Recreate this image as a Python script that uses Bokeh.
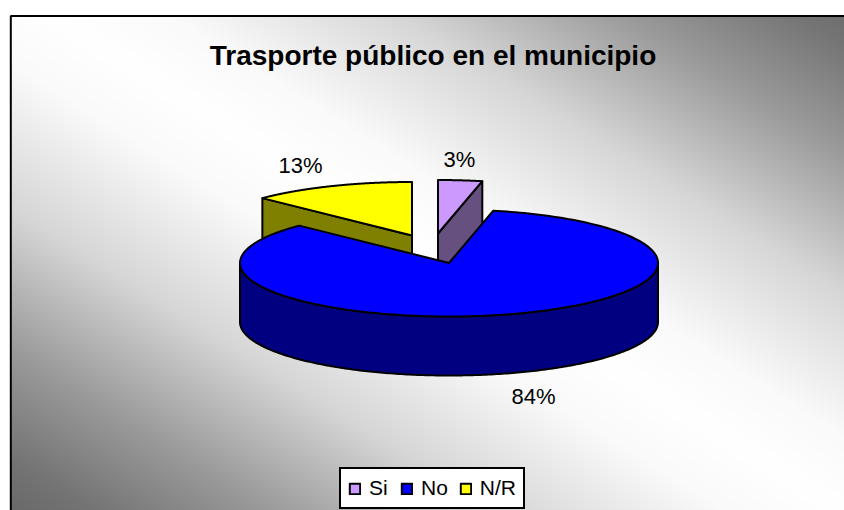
import numpy as np
from bokeh.core.properties import value
from bokeh.embed import file_html
from bokeh.models import Legend, LegendItem
from bokeh.plotting import figure
from bokeh.resources import INLINE

title_text = "Trasporte público en el municipio"
categories = ["Si", "No", "N/R"]
shares = [3.4, 83.9, 12.7]
tick_labels = ["3%", "84%", "13%"]
top_colors = ["#CC99FF", "#0000FF", "#FFFF00"]
side_colors = ["#665080", "#000080", "#808000"]

FONT = "Liberation Sans"
W, H = 844, 510
CX, CY, RX, RY, DEPTH = 449.0, 262.5, 209.0, 53.5, 59.0
OFFSETS = {"Si": (-11.5, -29.5), "No": (-0.5, 0.0), "N/R": (-37.5, -27.5)}
LABEL_POS = {"Si": (459, 159), "No": (533, 396), "N/R": (300, 165)}


def Y(screen_y):
    return 510 - np.asarray(screen_y, dtype=float)


def arc(a0, a1, cx, cy, n=240):
    t = np.radians(np.linspace(a0, a1, n))
    return cx + RX * np.sin(t), cy - RY * np.cos(t)


p = figure(width=W, height=H, x_range=(0, 844), y_range=(0, 510),
           x_axis_type=None, y_axis_type=None, toolbar_location=None,
           output_backend="svg", min_border=0, outline_line_color=None,
           background_fill_color="white", border_fill_color="white")
p.grid.visible = False

# gradient chart-area fill
xs, ys = np.meshgrid(np.arange(10.5, 844.5), np.arange(15.5, 510.5))
d = np.abs(xs - 1.6 * ys - 27.0)
g = np.interp(d, [0, 120, 350, 576, 751, 1000], [255, 250, 214, 154, 116, 84]).astype(np.uint8)
img = np.zeros(g.shape, dtype=np.uint32)
view = img.view(dtype=np.uint8).reshape(g.shape + (4,))
view[..., 0] = g
view[..., 1] = g
view[..., 2] = g
view[..., 3] = 255
p.image_rgba(image=[img[::-1]], x=10, y=0, dw=834, dh=495)

# chart-area frame (runs off the right and bottom of the picture)
p.line(x=[10.3, 10.3, 844], y=Y([510, 15.6, 15.6]), line_color="black", line_width=2)

# slice angles, clockwise from twelve o'clock
ends = np.cumsum(shares) / np.sum(shares) * 360.0
starts = np.concatenate([[0.0], ends[:-1]])
top_renderers = {}


def top_patch(i):
    name = categories[i]
    dx, dy = OFFSETS[name]
    cx, cy = CX + dx, CY + dy
    ax, ay = arc(starts[i], ends[i], cx, cy)
    return p.patch(np.r_[cx, ax], Y(np.r_[cy, ay]), fill_color=top_colors[i],
                   line_color="black", line_width=2, line_join="round")


def cut_face(i, angle):
    name = categories[i]
    dx, dy = OFFSETS[name]
    cx, cy = CX + dx, CY + dy
    ex, ey = arc(angle, angle, cx, cy, n=1)
    fx = [cx, ex[0], ex[0], cx]
    fy = [cy, ey[0], ey[0] + DEPTH, cy + DEPTH]
    p.patch(fx, Y(fy), fill_color=side_colors[i], line_color="black", line_width=2,
            line_join="round")


# exploded back slices first, main slice over them
cut_face(2, starts[2])
top_renderers["N/R"] = top_patch(2)
cut_face(0, ends[0])
top_renderers["Si"] = top_patch(0)

bx, by = CX + OFFSETS["No"][0], CY + OFFSETS["No"][1]
ax, ay = arc(90, 270, bx, by)
p.patch(np.r_[ax, ax[::-1]], Y(np.r_[ay, ay[::-1] + DEPTH]), fill_color=side_colors[1],
        line_color="black", line_width=2, line_join="round")
top_renderers["No"] = top_patch(1)

# percentage labels
for name, lab in zip(categories, tick_labels):
    lx, ly = LABEL_POS[name]
    p.text(x=[lx], y=Y([ly]), text=[lab], text_font=value(FONT), text_font_size="22px",
           text_align="center", text_baseline="middle", text_color="black")

# title
p.text(x=[432.5], y=Y([55]), text=[title_text], text_font=value(FONT), text_font_size="28px",
       text_font_style="bold", text_align="center", text_baseline="middle", text_color="black")

legend = Legend(
    items=[LegendItem(label=c, renderers=[top_renderers[c]]) for c in categories],
    orientation="horizontal", location=(339, 1), margin=0, padding=7, spacing=11,
    glyph_width=13, glyph_height=13, label_standoff=8,
    label_text_font=FONT, label_text_font_size="21px", label_text_color="black",
    border_line_color="black", border_line_width=2, border_line_alpha=1.0,
    background_fill_color="white", background_fill_alpha=1.0,
)
p.add_layout(legend)

open("out.html", "w").write(file_html(p, INLINE))
